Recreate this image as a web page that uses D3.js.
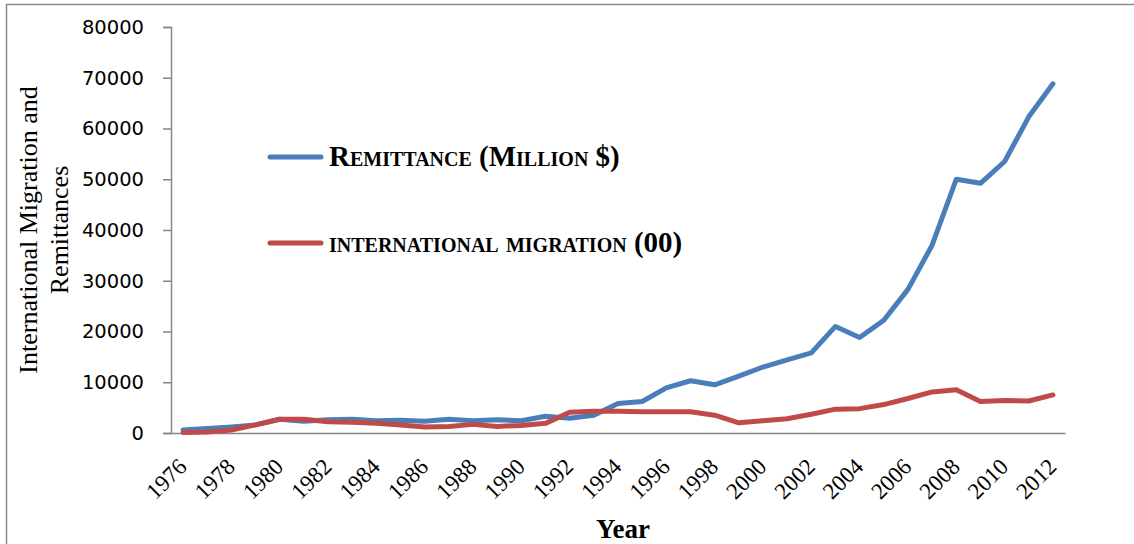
<!DOCTYPE html>
<html><head><meta charset="utf-8">
<script src="https://cdn.jsdelivr.net/npm/d3@7"></script>
<style>
html,body{margin:0;padding:0;background:#fff;}
svg{display:block;}
</style></head>
<body>
<svg id="chart" width="1134" height="544"></svg>
<script>
const years = d3.range(1976, 2013).map(String);
const remittance = [600, 900, 1200, 1600, 2700, 2300, 2600, 2700, 2400, 2500, 2300, 2700, 2400, 2600, 2400, 3300, 2900, 3500,
  5800, 6200, 8900, 10300, 9500, 11200, 13000, 14400, 15800, 21000, 18800, 22200, 28300, 37000, 50000, 49200, 53500, 62300, 68800];
const migration = [100, 200, 600, 1600, 2700, 2700, 2200, 2100, 1900, 1600, 1200, 1300, 1700, 1300, 1500, 1900, 4100, 4300,
  4300, 4200, 4200, 4200, 3500, 2000, 2400, 2800, 3700, 4700, 4800, 5600, 6800, 8100, 8500, 6200, 6400, 6300, 7500];
const yTicks = [0, 10000, 20000, 30000, 40000, 50000, 60000, 70000, 80000];
const seriesNames = ["Remittance (Million $)", "international migration (00)"];
const seriesColors = ["#4A7EBB", "#BE4B48"];

const svg = d3.select("#chart");
const L = 171, R = 1065, T = 27, B = 433;

// outer frame
svg.append("rect").attr("x", 6.5).attr("y", 4.5).attr("width", 1200).attr("height", 600)
  .attr("fill", "none").attr("stroke", "#8c8c8c").attr("stroke-width", 1.5);

const x = d3.scaleBand().domain(years).range([L, R]);
const y = d3.scaleLinear().domain([0, 80000]).range([B, T]);

// y axis
const yAxis = svg.append("g").attr("transform", `translate(${L},0)`)
  .call(d3.axisLeft(y).tickValues(yTicks).tickSize(8).tickPadding(19).tickFormat(d3.format("d")));
yAxis.select(".domain").attr("stroke", "#868686").attr("stroke-width", 1.5);
yAxis.selectAll(".tick line").attr("stroke", "#868686").attr("stroke-width", 1.5);
yAxis.selectAll(".tick text").attr("font-family", "DejaVu Sans").attr("font-size", 19.5).attr("fill", "#000");

// x axis
const xAxis = svg.append("g").attr("transform", `translate(0,${B})`)
  .call(d3.axisBottom(x).tickSize(0).tickSizeOuter(0).tickFormat(d => (+d % 2 === 0) ? d : ""));
xAxis.select(".domain").attr("stroke", "#868686").attr("stroke-width", 1.5);
xAxis.selectAll(".tick text")
  .attr("font-family", "Liberation Serif").attr("font-size", 23).attr("fill", "#000")
  .attr("text-anchor", "end").attr("dy", 0).attr("y", 0)
  .attr("transform", "translate(5,35) rotate(-45)");

// lines
const line = d3.line().x((d, i) => x(years[i]) + x.bandwidth() / 2).y(d => y(d));
[remittance, migration].forEach((s, k) => {
  svg.append("path").datum(s).attr("d", line).attr("fill", "none")
    .attr("stroke", seriesColors[k]).attr("stroke-width", 5)
    .attr("stroke-linejoin", "round").attr("stroke-linecap", "round");
});

// legend
const legY = [157, 243];
seriesNames.forEach((name, k) => {
  svg.append("line").attr("x1", 270).attr("x2", 321).attr("y1", legY[k]).attr("y2", legY[k])
    .attr("stroke", seriesColors[k]).attr("stroke-width", 5).attr("stroke-linecap", "round");
  svg.append("text").attr("x", 329).attr("y", legY[k] + 9)
    .attr("font-family", "Liberation Serif").attr("font-weight", "bold").attr("font-size", 29)
    .style("font-variant", "small-caps").text(name);
});

// axis titles
svg.append("text").attr("transform", "translate(37,230) rotate(-90)").attr("text-anchor", "middle")
  .attr("font-family", "Liberation Serif").attr("font-size", 26).text("International Migration and");
svg.append("text").attr("transform", "translate(68,230) rotate(-90)").attr("text-anchor", "middle")
  .attr("font-family", "Liberation Serif").attr("font-size", 26).text("Remittances");
svg.append("text").attr("x", 623).attr("y", 538).attr("text-anchor", "middle")
  .attr("font-family", "Liberation Serif").attr("font-weight", "bold").attr("font-size", 27).text("Year");
</script>
</body></html>
